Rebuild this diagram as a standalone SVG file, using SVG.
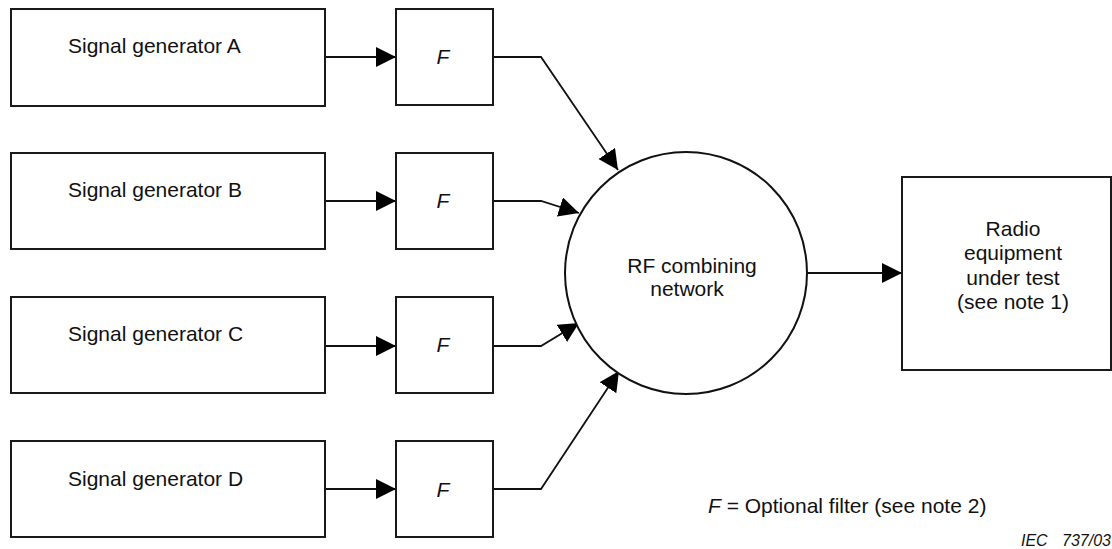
<svg xmlns="http://www.w3.org/2000/svg" width="1112" height="549" viewBox="0 0 1112 549">
<style>
.box{fill:#fff;stroke:#1a1a1a;stroke-width:2}
.t{font-family:"Liberation Sans",Arial,sans-serif;font-size:21px;fill:#111}
.m{text-anchor:middle}
.i{font-style:italic}
.c{fill:none;stroke:#111;stroke-width:1.8}
</style>
<defs>
<marker id="ah" markerUnits="userSpaceOnUse" markerWidth="22" markerHeight="22" refX="20" refY="10" orient="auto">
<path d="M0,0 L20,10 L0,20 z" fill="#000"/>
</marker>
</defs>
<rect width="1112" height="549" fill="#fff"/>
<g id="connectors">
<line class="c" x1="325" y1="57" x2="396" y2="57" marker-end="url(#ah)"/>
<line class="c" x1="325" y1="201" x2="396" y2="201" marker-end="url(#ah)"/>
<line class="c" x1="325" y1="346" x2="396" y2="346" marker-end="url(#ah)"/>
<line class="c" x1="325" y1="489" x2="396" y2="489" marker-end="url(#ah)"/>
<polyline class="c" points="493,57 541,57 618,170" marker-end="url(#ah)"/>
<polyline class="c" points="493,201 541,201 579,213" marker-end="url(#ah)"/>
<polyline class="c" points="493,346 541,346 579,323" marker-end="url(#ah)"/>
<polyline class="c" points="493,489 541,489 619,371" marker-end="url(#ah)"/>
<line class="c" x1="807" y1="273" x2="902" y2="273" marker-end="url(#ah)"/>
</g>
<g id="genA"><rect class="box" x="11" y="9" width="314" height="97"/><text class="t" x="68" y="53">Signal generator A</text></g>
<g id="genB"><rect class="box" x="11" y="153" width="314" height="96"/><text class="t" x="68" y="197">Signal generator B</text></g>
<g id="genC"><rect class="box" x="11" y="297" width="314" height="96"/><text class="t" x="68" y="341">Signal generator C</text></g>
<g id="genD"><rect class="box" x="11" y="441" width="314" height="96"/><text class="t" x="68" y="486">Signal generator D</text></g>
<g id="filterA"><rect class="box" x="396" y="9" width="97" height="96"/><text class="t i m" x="443" y="64">F</text></g>
<g id="filterB"><rect class="box" x="396" y="153" width="97" height="96"/><text class="t i m" x="443" y="208">F</text></g>
<g id="filterC"><rect class="box" x="396" y="297" width="97" height="96"/><text class="t i m" x="443" y="352">F</text></g>
<g id="filterD"><rect class="box" x="396" y="441" width="97" height="96"/><text class="t i m" x="443" y="497">F</text></g>
<g id="combiner"><circle cx="686" cy="273" r="121" fill="#fff" stroke="#111" stroke-width="2"/>
<text class="t m" x="692" y="273">RF combining</text><text class="t m" x="687" y="296">network</text></g>
<g id="radio"><rect class="box" x="902" y="177" width="209" height="193"/>
<text class="t m" x="1013" y="236">Radio</text>
<text class="t m" x="1013" y="260">equipment</text>
<text class="t m" x="1013" y="285">under test</text>
<text class="t m" x="1013" y="309">(see note 1)</text></g>
<g id="legend"><text class="t" x="708" y="513"><tspan class="i">F</tspan> = Optional filter (see note 2)</text></g>
<g id="ref"><text font-family="Liberation Sans,Arial,sans-serif" font-size="16" font-style="italic" fill="#111" x="1021" y="546">IEC<tspan x="1062">737/03</tspan></text></g>
</svg>
